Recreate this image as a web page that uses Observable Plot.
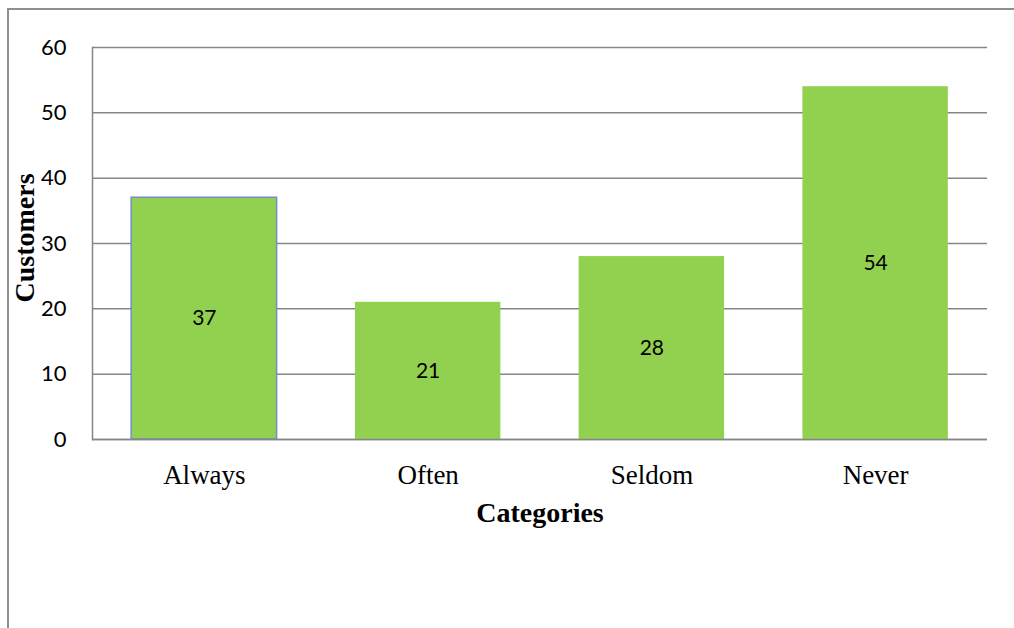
<!DOCTYPE html>
<html>
<head>
<meta charset="utf-8">
<script src="https://cdn.jsdelivr.net/npm/d3@7"></script>
<script src="https://cdn.jsdelivr.net/npm/@observablehq/plot@0.6"></script>
<style>
  html, body { margin: 0; padding: 0; background: #fff; overflow: hidden; }
  #wrap { position: relative; width: 1014px; height: 628px; }
  #border { position: absolute; left: 7px; top: 8px; width: 1100px; height: 700px; border: 2px solid #8f8f8f; box-sizing: border-box; }
  #chart { position: absolute; left: 0; top: 0; }
</style>
</head>
<body>
<div id="wrap">
  <div id="border"></div>
  <div id="chart"></div>
</div>
<script>
const categories = ["Always", "Often", "Seldom", "Never"];
const customers = [37, 21, 28, 54];
const yTicks = [0, 10, 20, 30, 40, 50, 60];

const data = categories.map((c, i) => ({category: c, value: customers[i]}));

const chart = Plot.plot({
  width: 1014,
  height: 628,
  marginLeft: 92,
  marginRight: 27,
  marginTop: 47,
  marginBottom: 189,
  style: {background: "transparent", overflow: "visible"},
  x: {domain: categories, paddingInner: 0.35, paddingOuter: 0.175, round: false, label: null},
  y: {domain: [0, 60], label: null},
  marks: [
    Plot.gridY(yTicks, {stroke: "#868686", strokeOpacity: 1, strokeWidth: 1.5}),
    Plot.barY(data, {
      x: "category", y: "value", fill: "#92D050", insetLeft: 0, insetRight: 0,
      stroke: d => d.category === "Always" ? "#6f8fc4" : "none", strokeWidth: 1.5
    }),
    Plot.ruleY([0], {stroke: "#868686", strokeWidth: 1.5}),
    Plot.frame({anchor: "left", stroke: "#868686", strokeWidth: 1.5}),
    Plot.text(data, {
      x: "category", y: d => d.value / 2, text: d => String(d.value),
      fontSize: 21, fontFamily: "Lato, 'Open Sans', sans-serif", fill: "#000"
    }),
    Plot.axisY(yTicks, {
      tickSize: 0, tickPadding: 26, fontSize: 22,
      fontFamily: "Lato, 'Open Sans', sans-serif", fill: "#000", label: null
    }),
    Plot.axisX({
      tickSize: 0, tickPadding: 25, fontSize: 27,
      fontFamily: "'Liberation Serif', 'Times New Roman', serif", fill: "#000", label: null
    })
  ]
});

const svg = d3.select(chart);
svg.append("text")
  .attr("x", 540).attr("y", 522)
  .attr("text-anchor", "middle")
  .attr("font-family", "'Liberation Serif', 'Times New Roman', serif")
  .attr("font-weight", "bold").attr("font-size", 28)
  .attr("fill", "#000")
  .text("Categories");
svg.append("text")
  .attr("transform", "translate(34,238) rotate(-90)")
  .attr("text-anchor", "middle")
  .attr("font-family", "'Liberation Serif', 'Times New Roman', serif")
  .attr("font-weight", "bold").attr("font-size", 28)
  .attr("fill", "#000")
  .text("Customers");

document.getElementById("chart").appendChild(chart);
</script>
</body>
</html>
